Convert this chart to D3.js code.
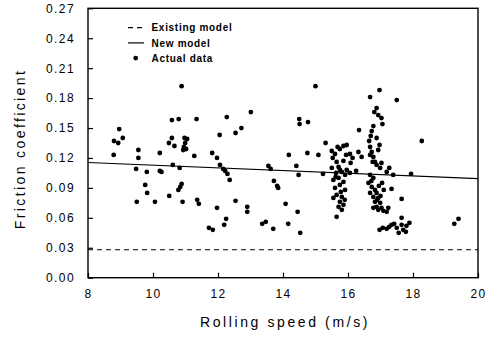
<!DOCTYPE html>
<html>
<head>
<meta charset="utf-8">
<script src="https://cdn.jsdelivr.net/npm/d3@7"></script>
<style>
  html, body { margin: 0; padding: 0; background: #fff; }
  svg { display: block; }
  text { font-family: "Liberation Sans", Arial, Helvetica, sans-serif; fill: #000; }
</style>
</head>
<body>
<svg id="chart" width="497" height="342"></svg>
<script>
// ---- data ----
const speed = [
  8.96, 8.80, 8.93, 9.07, 8.79, 9.55, 9.55, 9.48, 9.81, 10.21, 10.21, 10.26, 9.76, 9.82, 9.50, 10.06, 10.50,
  10.58, 10.58, 10.49, 10.66, 10.61, 10.88, 10.79, 11.34, 12.27, 13.01, 12.72, 12.54, 12.05,
  10.97, 11.05, 10.99, 10.95, 10.93, 11.02, 11.27, 11.82, 11.97, 12.06, 12.16, 12.22, 12.29, 12.36,
  10.82, 10.88, 10.84, 10.78, 10.91, 11.36, 11.41, 11.97, 12.54, 12.90, 12.90, 12.25, 12.19, 11.72, 11.84,
  15.00, 14.50, 14.51, 14.77, 15.31, 14.18, 14.75, 15.09, 13.55, 13.62, 14.41, 14.48, 15.23,
  13.72, 13.82, 13.85, 14.08, 14.45, 13.36, 13.47, 13.70, 14.16, 14.53,
  16.97, 16.68, 17.50, 16.88, 16.81, 16.93, 17.03, 17.06, 16.34, 16.78, 16.73, 16.70, 16.65, 16.68,
  16.73, 16.78, 16.83, 16.88, 16.76, 16.68, 16.88, 16.97, 16.93, 17.03, 16.99, 17.27, 17.19, 17.39,
  15.68, 15.86, 15.96, 15.75, 15.50, 15.60, 15.53, 15.65, 16.06, 16.14, 16.08, 15.94, 15.86, 15.71,
  16.32, 16.42, 15.63, 15.81, 15.91, 15.71, 15.55, 15.86, 15.75, 15.60, 15.91, 15.65, 15.81, 15.55,
  15.75, 15.86, 15.71, 15.81, 15.65, 15.75, 15.96, 16.06, 16.25, 15.50,
  16.68, 16.78, 16.63, 16.73, 16.83, 16.68, 16.88, 16.78, 16.93, 16.83, 16.99, 16.88, 17.03, 16.78,
  16.93, 17.09, 17.19, 17.24, 17.05, 17.10, 16.95, 17.00, 16.72, 16.90, 15.62, 15.78, 15.90,
  16.97, 17.07, 17.19, 17.27, 17.34, 17.42, 17.50, 17.56, 17.65, 17.70, 17.78, 17.80, 17.89, 17.65,
  17.65, 17.34, 19.27, 19.40, 17.94, 18.27
];
const friction = [
  0.149, 0.137, 0.135, 0.140, 0.123, 0.128, 0.120, 0.109, 0.106, 0.125, 0.107, 0.106, 0.093, 0.085, 0.076, 0.076, 0.082,
  0.158, 0.140, 0.135, 0.132, 0.113, 0.192, 0.159, 0.159, 0.161, 0.166, 0.150, 0.145, 0.143,
  0.140, 0.139, 0.135, 0.131, 0.128, 0.129, 0.122, 0.125, 0.120, 0.113, 0.109, 0.107, 0.104, 0.098,
  0.110, 0.094, 0.091, 0.088, 0.076, 0.078, 0.074, 0.070, 0.077, 0.071, 0.066, 0.059, 0.053, 0.050, 0.048,
  0.192, 0.159, 0.154, 0.156, 0.135, 0.123, 0.125, 0.123, 0.112, 0.109, 0.112, 0.103, 0.104,
  0.097, 0.092, 0.090, 0.074, 0.066, 0.054, 0.056, 0.049, 0.054, 0.045,
  0.188, 0.181, 0.178, 0.170, 0.166, 0.163, 0.160, 0.154, 0.148, 0.152, 0.147, 0.142, 0.137, 0.131,
  0.126, 0.121, 0.116, 0.113, 0.116, 0.123, 0.140, 0.133, 0.128, 0.115, 0.110, 0.110, 0.106, 0.103,
  0.131, 0.132, 0.133, 0.129, 0.127, 0.124, 0.120, 0.116, 0.124, 0.120, 0.115, 0.123, 0.117, 0.111,
  0.126, 0.121, 0.105, 0.106, 0.103, 0.100, 0.098, 0.096, 0.093, 0.090, 0.088, 0.083, 0.081, 0.080,
  0.076, 0.073, 0.071, 0.068, 0.061, 0.108, 0.108, 0.105, 0.107, 0.110,
  0.103, 0.100, 0.095, 0.091, 0.088, 0.085, 0.085, 0.081, 0.080, 0.076, 0.075, 0.071, 0.070, 0.070,
  0.068, 0.067, 0.066, 0.070, 0.095, 0.088, 0.092, 0.082, 0.097, 0.078, 0.101, 0.086, 0.078,
  0.048, 0.050, 0.049, 0.051, 0.053, 0.054, 0.050, 0.045, 0.053, 0.048, 0.046, 0.052, 0.055, 0.060,
  0.079, 0.089, 0.054, 0.059, 0.104, 0.137
];
const modelSpeed = [8, 20];
const existingModel = [0.028, 0.028];
const newModel = [0.1155, 0.0993];
const xTicks = [8, 10, 12, 14, 16, 18, 20];
const yTicks = [0, 0.03, 0.06, 0.09, 0.12, 0.15, 0.18, 0.21, 0.24, 0.27];
const legendLabels = ["Existing model", "New model", "Actual data"];
const xTitle = "Rolling speed (m/s)";
const yTitle = "Friction coefficient";

// ---- drawing ----
const svg = d3.select("#chart");
const L = 88, R = 478, T = 8.3, B = 277.7;
const x = d3.scaleLinear().domain([8, 20]).range([L, R]);
const y = d3.scaleLinear().domain([0, 0.27]).range([B, T]);

// axes
const yAxis = d3.axisLeft(y).tickValues(yTicks).tickFormat(d3.format(".2f"))
  .tickSizeInner(-5).tickSizeOuter(0).tickPadding(13);
const gy = svg.append("g").attr("transform", `translate(${L},0)`).call(yAxis);
const xAxis = d3.axisBottom(x).tickValues(xTicks).tickFormat(d3.format("d"))
  .tickSizeInner(-5).tickSizeOuter(0).tickPadding(12);
const gx = svg.append("g").attr("transform", `translate(0,${B})`).call(xAxis);
[gx, gy].forEach(g => {
  g.select(".domain").remove();
  g.selectAll(".tick line").attr("stroke", "#000").attr("stroke-width", 1.2);
  g.selectAll(".tick text").attr("font-size", 12).attr("letter-spacing", 1.4)
    .attr("font-family", "Liberation Sans, Arial, sans-serif").attr("fill", "#000");
});

// frame
svg.append("rect").attr("x", L).attr("y", T).attr("width", R - L).attr("height", B - T)
  .attr("fill", "none").attr("stroke", "#000").attr("stroke-width", 1.4);

// model lines
const modelPts = (vals) => modelSpeed.map((s, i) => [s, vals[i]]);
const line = d3.line().x(d => x(d[0])).y(d => y(d[1]));
svg.append("path").datum(modelPts(existingModel)).attr("d", line)
  .attr("fill", "none").attr("stroke", "#000").attr("stroke-width", 1.1).attr("stroke-dasharray", "5,4");
svg.append("path").datum(modelPts(newModel)).attr("d", line)
  .attr("fill", "none").attr("stroke", "#000").attr("stroke-width", 1.1);

// data points
svg.append("g").selectAll("circle").data(speed.map((s, i) => [s, friction[i]])).join("circle")
  .attr("cx", d => x(d[0])).attr("cy", d => y(d[1])).attr("r", 2.4).attr("fill", "#000");

// legend
const lg = svg.append("g");
const rowY = [27.7, 42.9, 58.1];
lg.append("line").attr("x1", 128).attr("x2", 144).attr("y1", rowY[0]).attr("y2", rowY[0])
  .attr("stroke", "#000").attr("stroke-width", 1.2).attr("stroke-dasharray", "5,4");
lg.append("line").attr("x1", 128).attr("x2", 144).attr("y1", rowY[1]).attr("y2", rowY[1])
  .attr("stroke", "#000").attr("stroke-width", 1.2);
lg.append("circle").attr("cx", 135.7).attr("cy", rowY[2]).attr("r", 2.4).attr("fill", "#000");
lg.selectAll("text").data(legendLabels).join("text")
  .attr("x", 151.5).attr("y", (d, i) => rowY[i] + 3.6)
  .attr("font-size", 10).attr("font-weight", "bold").attr("letter-spacing", 0.7)
  .text(d => d);

// axis titles
svg.append("text").attr("x", (L + R) / 2 + 2).attr("y", 327).attr("text-anchor", "middle")
  .attr("font-size", 14).attr("letter-spacing", 2.6).text(xTitle);
svg.append("text").attr("transform", `translate(25,${(T + B) / 2 + 6}) rotate(-90)`)
  .attr("text-anchor", "middle").attr("font-size", 14).attr("letter-spacing", 2.4).text(yTitle);
</script>
</body>
</html>
